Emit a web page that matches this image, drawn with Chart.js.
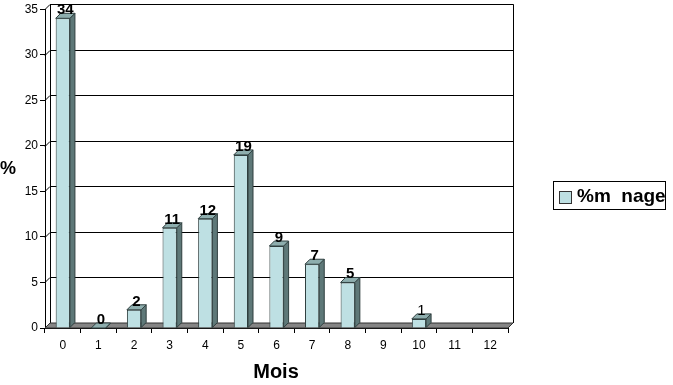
<!DOCTYPE html>
<html>
<head>
<meta charset="utf-8">
<script src="https://cdn.jsdelivr.net/npm/chart.js@4.4.1/dist/chart.umd.min.js"></script>
<style>
  body { margin: 0; background: #fff; }
  #wrap { position: relative; width: 673px; height: 385px; }
  #legend {
    position: absolute; left: 553px; top: 181px; width: 111px; height: 27px;
    border: 1px solid #000; font: bold 19px "Liberation Sans", Arial, sans-serif;
    white-space: pre; box-sizing: content-box;
  }
  #legend .sw {
    position: absolute; left: 5px; top: 9px; width: 11px; height: 11px;
    background: #bee0e3; border: 1px solid #333;
  }
  #legend .tx { position: absolute; left: 23px; top: 3px; }
</style>
</head>
<body>
<div id="wrap">
  <canvas id="chart" width="673" height="385"></canvas>
  <div id="legend"><span class="sw"></span><span class="tx">%m  nage</span></div>
</div>
<script>
// months and share of swimmers (%)
const months = ['0', '1', '2', '3', '4', '5', '6', '7', '8', '9', '10', '11', '12'];
const percents = [34, 0, 2, 11, 12, 19, 9, 7, 5, null, 1, null, null];
const yTicks = [0, 5, 10, 15, 20, 25, 30, 35];
const plainLabelIdx = [10];

const DEPTH = 5;

// draws back wall, floor, 3D bar faces and value labels
const fake3d = {
    id: 'fake3d',
    beforeDatasetsDraw(chart) {
        const ctx = chart.ctx;
        const x = chart.scales.x, y = chart.scales.y;
        const L = x.left, R = x.right, B = y.bottom, T = y.top;
        ctx.save();
        ctx.strokeStyle = '#000';
        ctx.lineWidth = 1;
        // back wall gridlines
        yTicks.forEach(v => {
            if (v === 0) return;
            const py = Math.round(y.getPixelForValue(v)) + 0.5;
            ctx.beginPath();
            ctx.moveTo(L, py);
            ctx.lineTo(L + DEPTH, py - DEPTH);
            ctx.lineTo(R + DEPTH, py - DEPTH);
            ctx.stroke();
        });
        // left and right wall edges
        ctx.beginPath();
        ctx.moveTo(L + DEPTH + 0.5, T - DEPTH);
        ctx.lineTo(L + DEPTH + 0.5, B - DEPTH);
        ctx.moveTo(R + DEPTH + 0.5, T - DEPTH);
        ctx.lineTo(R + DEPTH + 0.5, B - DEPTH);
        ctx.stroke();
        // floor
        ctx.beginPath();
        ctx.moveTo(L, B);
        ctx.lineTo(R, B);
        ctx.lineTo(R + DEPTH, B - DEPTH);
        ctx.lineTo(L + DEPTH, B - DEPTH);
        ctx.closePath();
        ctx.fillStyle = '#858585';
        ctx.fill();
        ctx.strokeStyle = '#333';
        ctx.stroke();
        ctx.restore();
    },
    afterDatasetsDraw(chart) {
        const ctx = chart.ctx;
        const meta = chart.getDatasetMeta(0);
        ctx.save();
        ctx.lineWidth = 1;
        ctx.strokeStyle = '#2f3f3f';
        meta.data.forEach((bar, i) => {
            const v = percents[i];
            if (v === null) return;
            const w = bar.width;
            const x0 = bar.x - w / 2, x1 = bar.x + w / 2;
            const top = bar.y, base = bar.base;
            // side face
            ctx.beginPath();
            ctx.moveTo(x1, base);
            ctx.lineTo(x1, top);
            ctx.lineTo(x1 + DEPTH, top - DEPTH);
            ctx.lineTo(x1 + DEPTH, base - DEPTH);
            ctx.closePath();
            ctx.fillStyle = '#5e7878';
            ctx.fill();
            ctx.stroke();
            // top face
            ctx.beginPath();
            ctx.moveTo(x0, top);
            ctx.lineTo(x1, top);
            ctx.lineTo(x1 + DEPTH, top - DEPTH);
            ctx.lineTo(x0 + DEPTH, top - DEPTH);
            ctx.closePath();
            ctx.fillStyle = '#8eaeae';
            ctx.fill();
            ctx.stroke();
            // value label
            const bold = plainLabelIdx.indexOf(i) < 0;
            ctx.fillStyle = '#000';
            ctx.font = (bold ? 'bold ' : '') + '15px "Liberation Sans", Arial, sans-serif';
            ctx.textAlign = 'center';
            ctx.textBaseline = 'alphabetic';
            ctx.fillText(String(v), bar.x + DEPTH / 2, top - DEPTH + 1);
        });
        ctx.restore();
    },
    afterDraw(chart) {
        const ctx = chart.ctx;
        ctx.save();
        ctx.fillStyle = '#000';
        ctx.textAlign = 'center';
        ctx.textBaseline = 'middle';
        ctx.font = 'bold 18px "Liberation Sans", Arial, sans-serif';
        ctx.fillText('%', 8, 169);
        ctx.font = 'bold 20px "Liberation Sans", Arial, sans-serif';
        ctx.fillText('Mois', 276, 372);
        ctx.restore();
    }
};

new Chart(document.getElementById('chart'), {
    type: 'bar',
    data: {
        labels: months,
        datasets: [{
            data: percents,
            backgroundColor: '#bee0e3',
            borderColor: '#2f3f3f',
            borderWidth: 1,
            categoryPercentage: 0.4,
            barPercentage: 1
        }]
    },
    options: {
        responsive: false,
        animation: false,
        layout: { padding: { top: 6, right: 165, left: 0, bottom: 0 } },
        plugins: { legend: { display: false }, tooltip: { enabled: false } },
        scales: {
            x: {
                afterFit(s) { s.height = 57; },
                grid: { drawOnChartArea: false, color: '#000', tickLength: 5 },
                border: { display: true, color: '#000' },
                ticks: { color: '#000', padding: 5, font: { size: 12, family: '"Liberation Sans", Arial, sans-serif' } }
            },
            y: {
                min: 0,
                max: 35,
                afterFit(s) { s.width = 45; },
                afterBuildTicks(s) { s.ticks = yTicks.map(v => ({ value: v })); },
                grid: { drawOnChartArea: false, color: '#000', tickLength: 5 },
                border: { display: true, color: '#000' },
                ticks: { color: '#000', padding: 2, font: { size: 12, family: '"Liberation Sans", Arial, sans-serif' } }
            }
        }
    },
    plugins: [fake3d]
});
</script>
</body>
</html>
